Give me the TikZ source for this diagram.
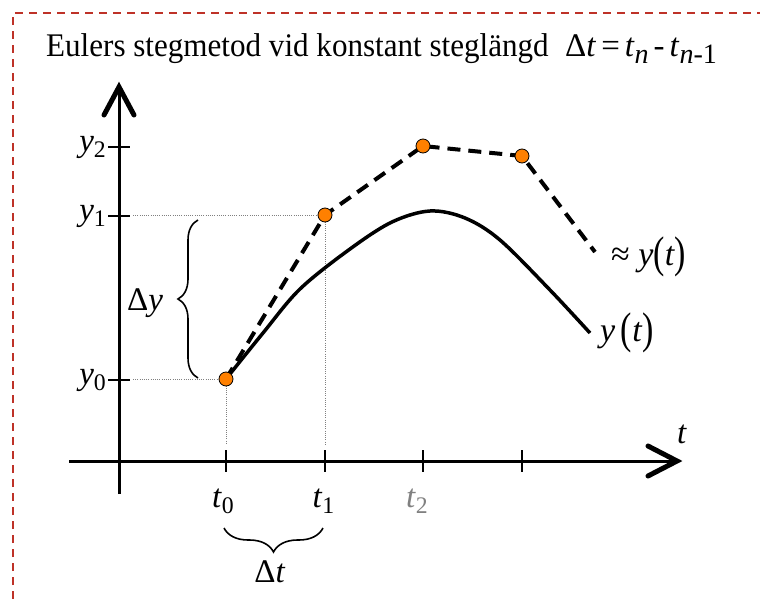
\documentclass[tikz,border=0pt]{standalone}
\usepackage{fontspec}
\usepackage{graphicx}
\setmainfont{Liberation Serif}
\usetikzlibrary{decorations.pathreplacing}
\definecolor{framered}{RGB}{190,50,40}
\definecolor{ptorange}{RGB}{255,128,0}
\newcommand\mysub[1]{\raisebox{-.2em}{\scalebox{.72}{#1}}}
\newcommand\titlesub[1]{\raisebox{-.2em}{\scalebox{.85}{#1}}}
\newcommand\tallpar[1]{\raisebox{-.07em}{\scalebox{1}[1.3]{#1}}}
\begin{document}
\begin{tikzpicture}[x=1pt,y=-1pt,
  axis/.style={line width=3pt},
  tickmark/.style={line width=2pt},
  chevron/.style={line width=5pt, line cap=round, line join=miter},
  guide/.style={gray, line width=0.9pt, dash pattern=on 1pt off 1.2pt},
  approx/.style={line width=4pt, dash pattern=on 13pt off 8pt},
  exact/.style={line width=3.5pt, line join=round},
  pt/.style={circle, draw=black, line width=0.8pt, fill=ptorange, minimum size=14pt, inner sep=0pt},
  lbl/.style={inner sep=0pt, font=\fontsize{33}{40}\selectfont},
  curlbl/.style={inner sep=0pt, font=\fontsize{34}{40}\selectfont},
  ttl/.style={inner sep=0pt, anchor=base west, font=\fontsize{33}{40}\selectfont},
  brc/.style={decorate, decoration={brace, amplitude=20pt}, line width=1.6pt},
]
\useasboundingbox (0,0) rectangle (760,599);
\draw[framered, line width=2pt, dash pattern=on 8pt off 6pt] (13,599) -- (13,13) -- (760,13);

\node[ttl] (title) at (46,57)
  {\scalebox{0.942}[1]{Eulers stegmetod vid konstant steglängd}};
\node[ttl] (formula) at (565,57)
  {Δ\textit{t}\kern5pt=\kern5pt\textit{t}\titlesub{\textit{n}}\kern5pt-\kern5pt\textit{t}\titlesub{\textit{n}-1}};

% axes
\coordinate (ybot) at (119,494);
\coordinate (ytop) at (119,87);
\coordinate (xleft) at (69,461);
\coordinate (xright) at (677,461);
\draw[axis] (ybot) -- (ytop);
\draw[axis] (xleft) -- (xright);
\draw[chevron] (104,115) -- (ytop) -- (134,115);
\draw[chevron] (648,446) -- (xright) -- (648,476);

% ticks
\foreach \x in {226,325,423,522} \draw[tickmark] (\x,450) -- (\x,472);
\foreach \y in {147,216,380} \draw[tickmark] (108,\y) -- (130,\y);

% points
\coordinate (c0) at (226,379);
\coordinate (c1) at (325,215);
\coordinate (c2) at (423,146);
\coordinate (c3) at (522,156);
\coordinate (ce) at (595,252);
\coordinate (g1) at (133,215);
\coordinate (g0) at (133,379);
\coordinate (v0) at (226,444);
\coordinate (v1) at (325,444);

\draw[guide] (g1) -- (c1);
\draw[guide] (g0) -- (c0);
\draw[guide] (c0) -- (v0);
\draw[guide] (c1) -- (v1);

\draw[exact] plot[smooth, tension=0.55] coordinates {(226,379) (263,333) (300,289) (350,249) (392,222) (430,211) (465,218) (500,240) (550,290) (590,333)};
\draw[approx] (c0) -- (c1) -- (c2) -- (c3) -- (ce);

\node[pt] (p0) at (c0) {};
\node[pt] (p1) at (c1) {};
\node[pt] (p2) at (c2) {};
\node[pt] (p3) at (c3) {};

% braces
\draw[brc] (198,378) -- (198,220);
\draw[brc, decoration={brace, amplitude=24pt}] (323,528) -- (224,528);

% labels
\node[lbl, anchor=east] (y2) at (106,147) {\textit{y}\mysub{2}};
\node[lbl, anchor=east] (y1) at (106,216) {\textit{y}\mysub{1}};
\node[lbl, anchor=east] (y0) at (106,380) {\textit{y}\mysub{0}};
\node[lbl, anchor=base] (t0) at (223,507) {\textit{t}\mysub{0}};
\node[lbl, anchor=base] (t1) at (323.5,507) {\textit{t}\mysub{1}};
\node[lbl, anchor=base, text=gray] (t2) at (417,507) {\textit{t}\mysub{2}};
\node[lbl, anchor=base] (tlbl) at (682,443) {\textit{t}};
\node[lbl, anchor=base west] (dy) at (127,310) {Δ\textit{y}};
\node[lbl, anchor=base] (dt) at (270,582) {Δ\textit{t}};
\node[curlbl, anchor=base west] (approxlbl) at (611,265) {≈ \textit{y}\tallpar{(}\textit{t}\tallpar{)}};
\node[curlbl, anchor=base west] (exactlbl) at (600,341) {\textit{y}\,\tallpar{(}\textit{t}\tallpar{)}};
\end{tikzpicture}
\end{document}
